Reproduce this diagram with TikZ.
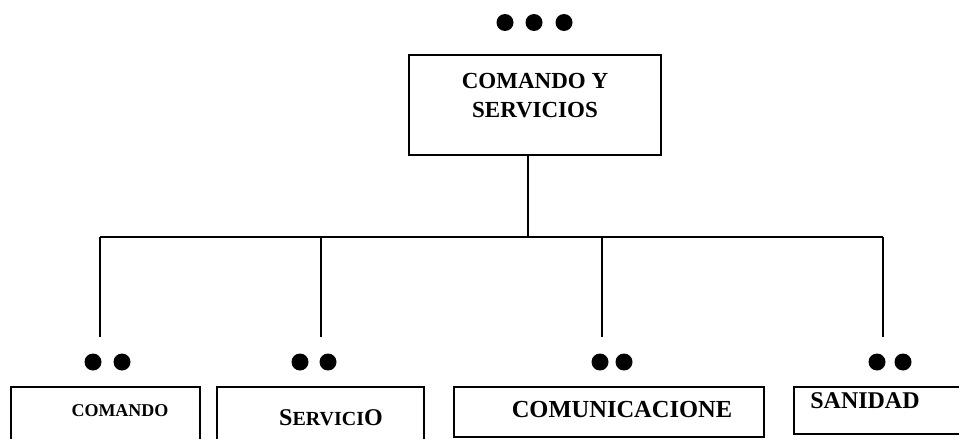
\documentclass[tikz,border=0pt]{standalone}
\usepackage{fontspec}
\setmainfont{Liberation Serif}

\begin{document}
\begin{tikzpicture}[x=1pt,y=-1pt,
						unit/.style={draw,line width=1.4pt,inner sep=0pt},
						caption/.style={font=\bfseries,inner sep=0pt,anchor=base},
						wire/.style={line width=1.3pt}]

		\useasboundingbox (0,0) rectangle (959,439);
		\clip (0,0) rectangle (959,439);

		\node[unit,minimum width=252pt,minimum height=100pt] (cys) at (535,105) {};
		\node[caption,align=center,font=\bfseries\fontsize{23}{29}\selectfont] (cys-t) at (535,117) {COMANDO Y\\SERVICIOS};

		\node[unit,minimum width=189pt,minimum height=80pt] (comando) at (105.5,427) {};
		\node[unit,minimum width=207pt,minimum height=80pt] (servicio) at (320.5,427) {};
		\node[unit,minimum width=310pt,minimum height=50pt] (comunic) at (609,412) {};
		\node[unit,minimum width=190pt,minimum height=47pt] (sanidad) at (889,410.5) {};

		\node[caption,font=\bfseries\fontsize{18}{18}\selectfont] (comando-t) at (120,416) {COMANDO};
		\node[caption] (servicio-t) at (331,425) {{\fontsize{24}{24}\selectfont S}{\fontsize{20}{20}\selectfont ERVICI}{\fontsize{24}{24}\selectfont O}};
		\node[caption,font=\bfseries\fontsize{24.5}{24.5}\selectfont] (comunic-t) at (622,417) {COMUNICACIONE};
		\node[caption,font=\bfseries\fontsize{24}{24}\selectfont] (sanidad-t) at (865,408) {SANIDAD};

		\coordinate (trunk) at (528,237);
		\coordinate (b1) at (100,237);
		\coordinate (b2) at (321,237);
		\coordinate (b3) at (602,237);
		\coordinate (b4) at (883,237);
		\coordinate (e1) at (100,337);
		\coordinate (e2) at (321,337);
		\coordinate (e3) at (602,337);
		\coordinate (e4) at (883,337);

		\draw[wire] (trunk |- cys.south) -- (trunk);
		\draw[wire] (b1) -- (b4);
		\foreach \i in {1,...,4}
			\draw[wire] (b\i) -- (e\i);

		\foreach \x in {505,534,564}
			\fill (\x,22.5) circle (8.5pt);
		\foreach \x in {93,122,300,328,600,624,877,903}
			\fill (\x,362) circle (8.5pt);

	\end{tikzpicture}
\end{document}
